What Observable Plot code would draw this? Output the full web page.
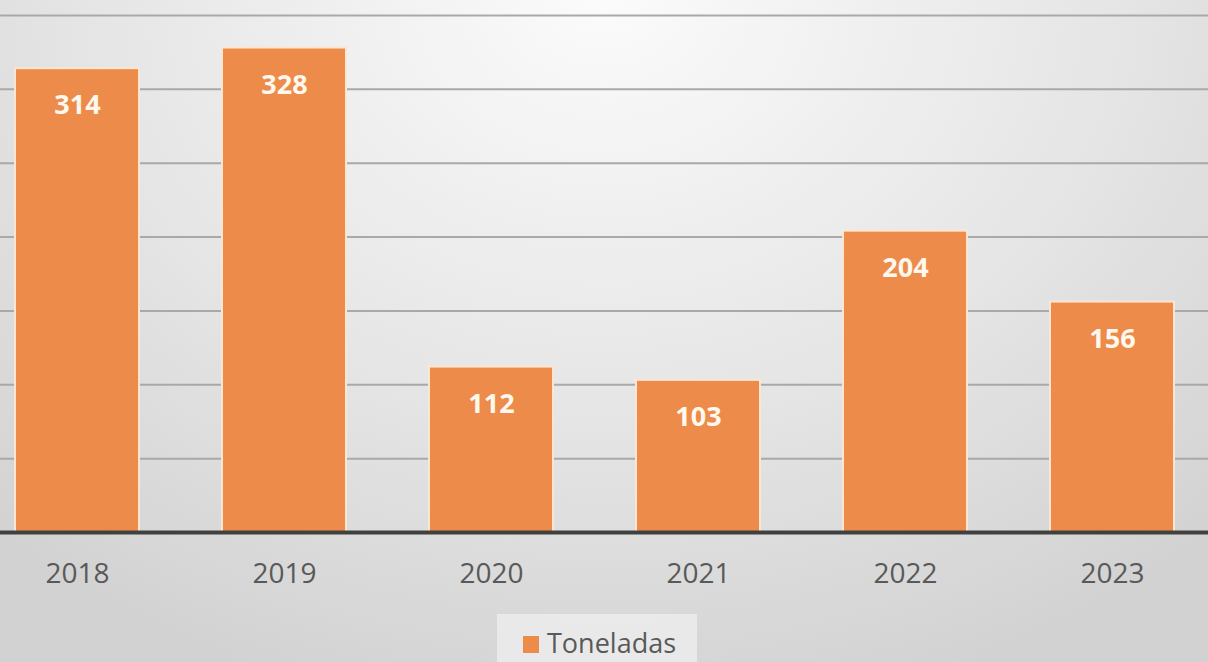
<!DOCTYPE html>
<html>
<head>
<meta charset="utf-8">
<script src="https://cdn.jsdelivr.net/npm/d3@7"></script>
<script src="https://cdn.jsdelivr.net/npm/@observablehq/plot@0.6"></script>
<style>
  html, body { margin: 0; padding: 0; }
  body {
    width: 1208px; height: 662px; overflow: hidden;
    background: radial-gradient(ellipse 75% 110% at 50% 0%, #fbfbfb 0%, #e6e6e6 55%, #d2d2d2 100%);
    font-family: "Open Sans", sans-serif;
  }
  #chart svg { background: transparent; display: block; }
  #legend { position: relative; height: 62px; }
  #legend .box {
    position: absolute; left: 497px; top: 14px; width: 200px; height: 60px;
    background: rgba(245,245,245,0.6);
  }
  #legend .sw { position: absolute; left: 26px; top: 22px; width: 16px; height: 17px; background: #ED8B4A; }
  #legend .lab { position: absolute; left: 50px; top: 11px; font-size: 27px; color: #595959; line-height: 36px; }
</style>
</head>
<body>
<div id="chart"></div>
<div id="legend"><div class="box"><div class="sw"></div><div class="lab">Toneladas</div></div></div>
<script>
const years = ["2018", "2019", "2020", "2021", "2022", "2023"];
const toneladas = [314, 328, 112, 103, 204, 156];
const gridValues = [50, 100, 150, 200, 250, 300, 350];
const seriesName = "Toneladas";

const data = years.map((y, i) => ({year: y, value: toneladas[i]}));

const chart = Plot.plot({
  width: 1208,
  height: 600,
  marginLeft: -27,
  marginRight: -9,
  marginTop: 15,
  marginBottom: 68,
  style: {background: "transparent", fontFamily: "'Open Sans', sans-serif", overflow: "visible"},
  x: {domain: years, paddingInner: 0.4, paddingOuter: 0.2, label: null},
  y: {domain: [0, 350], axis: null},
  marks: [
    Plot.ruleY(gridValues, {stroke: "#a9a9a9", strokeWidth: 2}),
    Plot.barY(data, {x: "year", y: "value", fill: "#ED8B4A", stroke: "#FCE6D2", strokeWidth: 2}),
    Plot.text(data, {x: "year", y: "value", text: d => String(d.value), dy: 37, fill: "#FFF8EE", fontSize: 27, fontWeight: "bold"}),
    Plot.ruleY([0], {stroke: "#404040", strokeWidth: 4}),
    Plot.axisX({tickSize: 0, tickPadding: 31, fontSize: 28, color: "#595959", label: null})
  ]
});
document.getElementById("chart").appendChild(chart);
</script>
</body>
</html>
